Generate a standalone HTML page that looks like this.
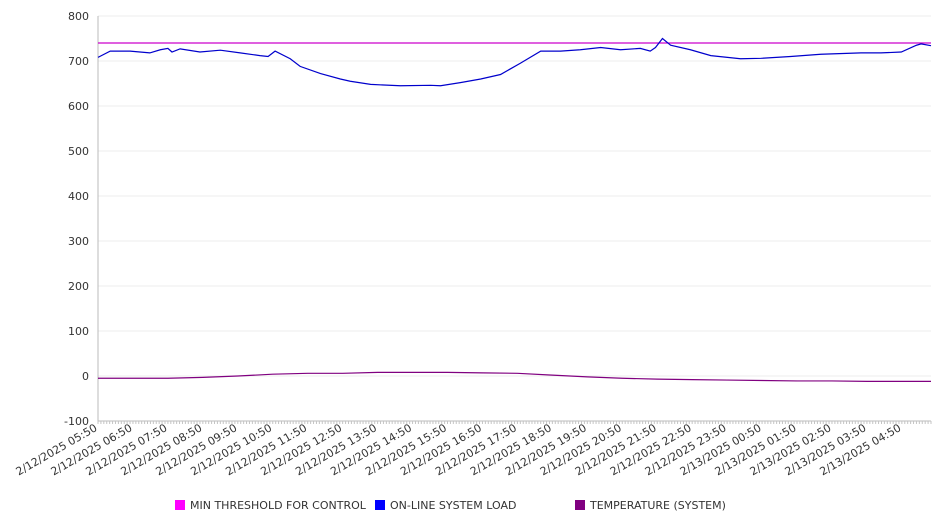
<!DOCTYPE html>
<html><head><meta charset="utf-8"><style>
body{margin:0;background:#fff;font-family:"DejaVu Sans","Liberation Sans",sans-serif;}
</style></head><body>
<svg id="chart" width="946" height="526" xmlns="http://www.w3.org/2000/svg" font-family="DejaVu Sans, Liberation Sans, sans-serif"></svg>
<script>
const yTicks=[800,700,600,500,400,300,200,100,0,-100];
const xLabels=["2/12/2025 05:50","2/12/2025 06:50","2/12/2025 07:50","2/12/2025 08:50","2/12/2025 09:50","2/12/2025 10:50","2/12/2025 11:50","2/12/2025 12:50","2/12/2025 13:50","2/12/2025 14:50","2/12/2025 15:50","2/12/2025 16:50","2/12/2025 17:50","2/12/2025 18:50","2/12/2025 19:50","2/12/2025 20:50","2/12/2025 21:50","2/12/2025 22:50","2/12/2025 23:50","2/13/2025 00:50","2/13/2025 01:50","2/13/2025 02:50","2/13/2025 03:50","2/13/2025 04:50"];
const loadMinutes=[0,21,38,55,89,107,120,127,141,175,210,244,278,292,304,330,347,382,416,433,468,519,571,588,622,657,691,725,760,794,828,863,897,931,948,957,969,983,1017,1052,1103,1138,1189,1241,1310,1344,1379,1405,1413,1430];
const loadValues=[708,722,722,722,718,725,728,720,727,720,724,718,712,710,722,705,688,672,660,655,648,645,646,645,652,660,670,695,722,722,725,730,725,728,722,730,750,735,725,712,705,706,710,715,718,718,720,735,738,734];
const tempMinutes=[0,60,120,180,240,300,360,420,480,540,600,660,720,780,840,900,960,1020,1080,1140,1200,1260,1320,1380,1430];
const tempValues=[-5,-5,-5,-3,0,4,6,6,8,8,8,7,6,2,-2,-5,-7,-8,-9,-10,-11,-11,-12,-12,-12];
const thresholdValue=740;
const totalMinutes=1430;

const svg=document.getElementById('chart');
const NS='http://www.w3.org/2000/svg';
const X0=98,X1=931,Y0=16,Y1=421;
const xs=m=>X0+(m/totalMinutes)*(X1-X0);
const ys=v=>Y1-(v+100)/900*(Y1-Y0);
function mk(t,a,p){const e=document.createElementNS(NS,t);for(const k in a)e.setAttribute(k,a[k]);(p||svg).appendChild(e);return e;}

yTicks.forEach(v=>{
  const g=mk('line',{x1:X0,x2:X1,y1:ys(v),y2:ys(v),stroke:'#ececec','stroke-width':1});
  
  
  const t=mk('text',{x:89,y:ys(v)+4,'text-anchor':'end','font-size':11,fill:'#333'});
  t.textContent=v;
  
  
});
const ax=mk('line',{x1:X0,x2:X0,y1:Y0,y2:Y1,stroke:'#bbb'});


const bx=mk('line',{x1:X0,x2:X1,y1:Y1,y2:Y1,stroke:'#bbb'});


for(let m=0;m<=totalMinutes;m+=5){
  const tk=mk('line',{x1:xs(m),x2:xs(m),y1:Y1,y2:Y1+3,stroke:'#c4c4c4'});
  
  
}
xLabels.forEach((l,i)=>{
  const x=xs(i*60),y=Y1+9;
  const t=mk('text',{x:x,y:y,'text-anchor':'end','font-size':11,fill:'#333',transform:`rotate(-30 ${x} ${y})`});
  t.textContent=l;
  
  
});
const th=mk('line',{x1:X0,x2:X1,y1:ys(thresholdValue),y2:ys(thresholdValue),stroke:'#cc00cc','stroke-width':1.2});


const lp=mk('polyline',{points:loadMinutes.map((m,i)=>xs(m)+','+ys(loadValues[i])).join(' '),fill:'none',stroke:'#0000cc','stroke-width':1.2});


const tp=mk('polyline',{points:tempMinutes.map((m,i)=>xs(m)+','+ys(tempValues[i])).join(' '),fill:'none',stroke:'#800080','stroke-width':1.2});



const legend=[["MIN THRESHOLD FOR CONTROL","#ff00ff",175],["ON-LINE SYSTEM LOAD","#0000ff",375],["TEMPERATURE (SYSTEM)","#800080",575]];
legend.forEach(([n,c,x])=>{
  const g=mk('g',{});
  
  
  mk('rect',{x:x,y:500,width:10,height:10,fill:c},g);
  const t=mk('text',{x:x+15,y:509,'font-size':11,fill:'#333'},g);
  t.textContent=n;
});
</script>
</body></html>
